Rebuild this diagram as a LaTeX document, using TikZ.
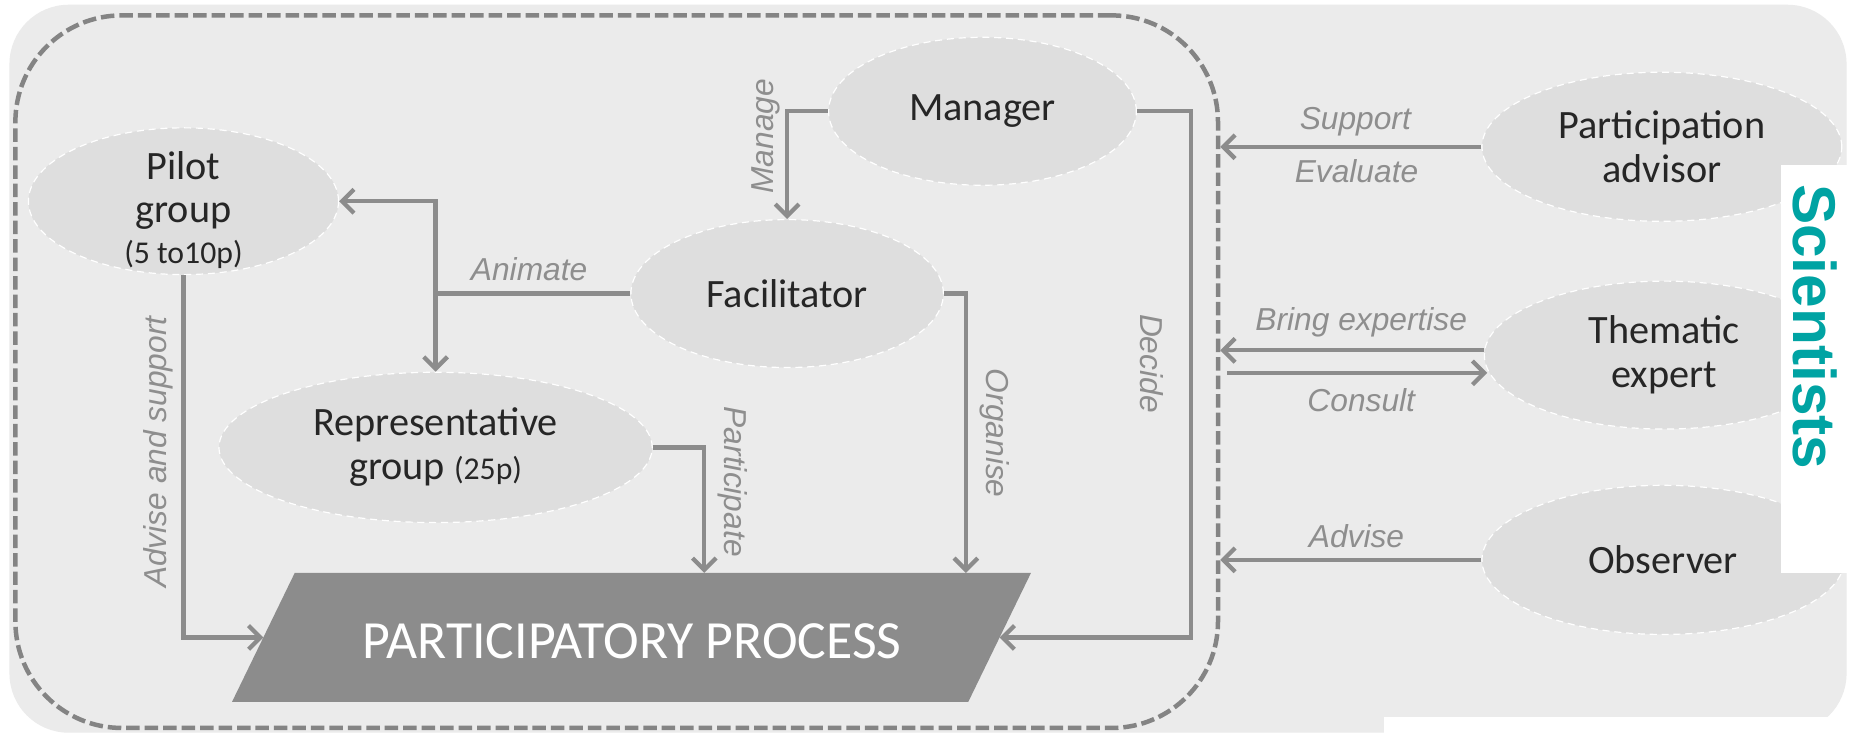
\documentclass[tikz,border=0pt]{standalone}
\usepackage{fontspec}
\setmainfont{Carlito}
\newfontfamily\labfont{Liberation Sans}
\usetikzlibrary{arrows.meta,calc,shapes.geometric}
\definecolor{bgc}{HTML}{EBEBEB}
\definecolor{ellc}{HTML}{DEDEDE}
\definecolor{linec}{HTML}{8C8C8C}
\definecolor{dashc}{HTML}{848484}
\definecolor{procc}{HTML}{8C8C8C}
\definecolor{txtc}{HTML}{262626}
\definecolor{labc}{HTML}{8E8E8E}
\definecolor{tealc}{HTML}{00A3A3}
\begin{document}
\begin{tikzpicture}[x=0.5pt,y=-0.5pt,
  ell/.style={ellipse, fill=ellc, draw=white, densely dashed, line width=0.5pt, inner sep=0pt,
    text=txtc, align=center, font=\fontsize{17}{18.5}\selectfont},
  conn/.style={draw=linec, line width=1.8pt},
  arr/.style={conn, -{Straight Barb[length=5pt,width=10pt]}},
  lab/.style={text=labc, font=\labfont\itshape\fontsize{13.4}{15}\selectfont, inner sep=0pt}
]
\useasboundingbox (0,0) rectangle (1568,620);
\fill[white] (0,0) rectangle (1568,620);
\fill[bgc, rounded corners=25pt] (8,4) rectangle (1560,619);

% dashed frame
\node[draw=dashc, dash pattern=on 5.7pt off 2.1pt, line width=1.9pt, rounded corners=45pt,
  minimum width=508pt, minimum height=301pt, inner sep=0pt] (frame) at (521,314) {};

% ellipses
\node[ell, minimum width=131pt, minimum height=62pt] (pilot) at (155,170)
  {\raisebox{-9pt}[0pt][0pt]{\begin{tabular}{@{}c@{}}Pilot\\group\\[-1.5pt]{\fontsize{13.4}{14}\selectfont(5 to10p)}\end{tabular}}};
\node[ell, minimum width=130pt, minimum height=62.5pt] (mgr) at (830,94) {Manager};
\node[ell, minimum width=132pt, minimum height=62.5pt] (fac) at (665,248) {Facilitator};
\node[ell, minimum width=183pt, minimum height=63.5pt] (rep) at (368,378)
  {Representative\\group {\fontsize{13.4}{14}\selectfont(25p)}};
\node[ell, minimum width=152pt, minimum height=63pt] (pa) at (1404,124) {Participation\\advisor};
\node[ell, minimum width=152pt, minimum height=62.5pt] (te) at (1406,300) {Thematic\\expert};
\node[ell, minimum width=153pt, minimum height=63pt] (obs) at (1405,473) {Observer};

% participatory process
\coordinate (ptl) at (249,484);
\coordinate (ptr) at (871,484);
\coordinate (pbr) at (818,593);
\coordinate (pbl) at (196,593);
\fill[procc] (pbl) -- (ptl) -- (ptr) -- (pbr) -- cycle;
\node[text=white, font=\fontsize{22.7}{24}\selectfont] (pp) at (534,542) {PARTICIPATORY PROCESS};
\coordinate (ppL) at ($(pbl)!0.5!(ptl)$);
\coordinate (ppR) at ($(pbr)!0.5!(ptr)$);
\coordinate (ppPart) at (595,484);
\coordinate (ppOrg) at (816,484);
\coordinate (dec) at (1006,538.5);

% connectors inside
\draw[arr] (mgr.west) -| (fac.north);
\draw[arr] (mgr.east) -| (dec) -- (ppR);
\draw[conn] (fac.west) -- (fac.west -| rep.north) coordinate (jn);
\draw[arr] (jn) |- (pilot.east);
\draw[arr] (jn) -- (rep.north);
\draw[arr] (fac.east) -| (ppOrg);
\draw[arr] (rep.east) -| (ppPart);
\draw[arr] (pilot.south) |- (ppL);

% connectors outside
\coordinate (teIn) at ($(te.west)+(0,-4)$);
\coordinate (teOut) at ($(te.west)+(3,15)$);
\draw[arr] (pa.west) -- (pa.west -| frame.east);
\draw[arr] (teIn) -- (teIn -| frame.east);
\draw[arr, shorten <=3pt] (teOut -| frame.east) -- (teOut);
\draw[arr] (obs.west) -- (obs.west -| frame.east);

% labels
\node[lab] (lAnimate) at (447,227) {Animate};
\node[lab, rotate=90] (lManage) at (647,115) {Manage};
\node[lab, rotate=-90] (lDecide) at (973,307) {Decide};
\node[lab, rotate=-90] (lOrganise) at (840,366) {Organise};
\node[lab, rotate=-90] (lPart) at (619,407) {Participate};
\node[lab, rotate=90] (lAdv) at (134,382) {Advise and support};
\node[lab] (lSup) at (1145,103) {Support};
\node[lab] (lEval) at (1146,145) {Evaluate};
\node[lab] (lBring) at (1150,272) {Bring expertise};
\node[lab] (lCons) at (1150,338) {Consult};
\node[lab] (lAdvise) at (1146,453) {Advise};

% white overlays
\fill[white] (1505,139) rectangle (1568,484);
\node[rotate=-90, text=tealc, inner sep=0pt, font=\labfont\bfseries\fontsize{25.5}{28}\selectfont] (sci) at (1533,276) {Scientists};
\fill[white] (1169,606) rectangle (1568,620);
\end{tikzpicture}
\end{document}
